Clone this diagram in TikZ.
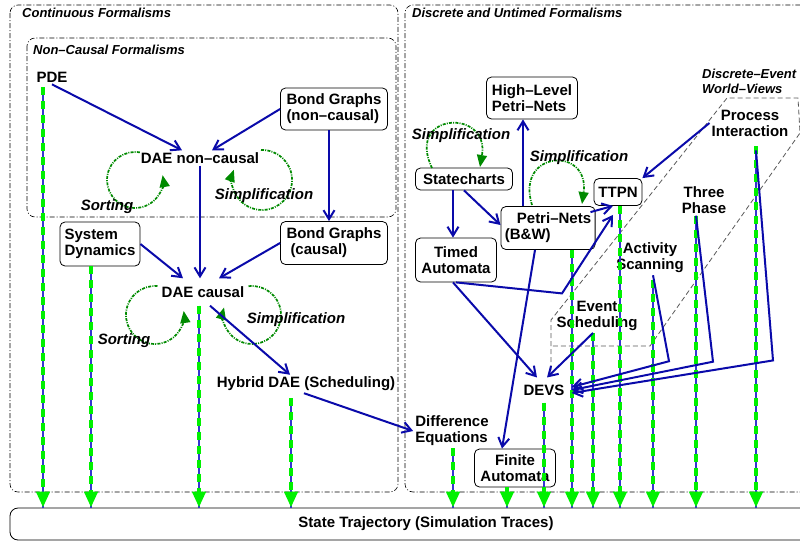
\documentclass[tikz,border=0pt]{standalone}
\usepackage{fontspec}
\setmainfont{Liberation Sans}
\usetikzlibrary{arrows.meta, calc}
\definecolor{fblue}{HTML}{0A0AAA}
\definecolor{tblue}{HTML}{3535D0}
\definecolor{fgreen}{HTML}{00F000}
\definecolor{lgreen}{HTML}{008A00}
\tikzset{
  fbox/.style={draw=black, fill=white, rounded corners=5pt, line width=0.8pt,
               font=\fontsize{15}{16}\selectfont\bfseries, inner sep=4pt, align=center},
  ftext/.style={font=\fontsize{15}{16}\selectfont\bfseries, inner sep=2pt, align=center},
  glabel/.style={font=\fontsize{13}{15}\selectfont\bfseries\itshape, anchor=west,
                 inner sep=0pt, align=left},
  llabel/.style={font=\fontsize{15}{16}\selectfont\bfseries\itshape, inner sep=0pt},
  group/.style={draw=black, line width=0.6pt, rounded corners=8pt,
                dash pattern=on 5pt off 2pt on 1pt off 2pt},
  wview/.style={draw=black!65, line width=0.8pt, dash pattern=on 5pt off 3pt},
  arr/.style={-{Straight Barb[length=9pt,width=11pt]}, line width=2pt, fblue},
  selfloop/.style={-{Triangle[length=12pt,width=10pt]}, line width=1.7pt, lgreen,
                   dash pattern=on 3pt off 1.2pt on 1pt off 1.2pt},
  trace/.style={-{Triangle[length=16pt,width=13pt]}, line width=4.5pt, fgreen,
                dash pattern=on 8pt off 6pt,
                preaction={draw=tblue, line width=1.2pt, solid, -}},
}

\begin{document}
\begin{tikzpicture}[x=1pt, y=-1pt]
  \useasboundingbox (0,0) rectangle (800,541);

  %% Group frames
  \draw[group] (10,5) rectangle (398,492);
  \draw[group] (405,5) rectangle (830,492);
  \draw[group] (27,38) rectangle (396,217);
  \draw[wview] (551,370) -- (551,320) -- (727,98) -- (798,98) -- (800,133) -- (650,346) -- (551,346);

  \node[glabel] (lcont) at (22,13) {Continuous Formalisms};
  \node[glabel] (lnoncausal) at (33,50) {Non--Causal Formalisms};
  \node[glabel] (ldisc) at (412,13) {Discrete and Untimed Formalisms};
  \node[glabel] (lworld) at (702,81) {Discrete--Event\\World--Views};

  %% Continuous formalisms
  \node[ftext] (pde) at (52,77) {PDE};
  \node[fbox, minimum width=107pt, minimum height=42pt, align=left] (bgnc) at (334,109) {Bond Graphs\\(non--causal)};
  \node[ftext] (daenc) at (200,158) {DAE non--causal};
  \node[fbox, minimum width=80pt, minimum height=44pt, align=left] (sysdyn) at (100,244) {System\\Dynamics};
  \node[fbox, minimum width=107pt, minimum height=43pt, align=left] (bgc) at (334,243) {Bond Graphs\\\hspace{4pt}(causal)};
  \node[ftext, inner ysep=8pt] (daec) at (203,292) {DAE causal};
  \node[ftext] (hybrid) at (306,384) {Hybrid DAE (Scheduling)};
  \node[ftext, align=left] (diff) at (452,431) {Difference\\Equations};

  %% Discrete formalisms
  \node[fbox, minimum width=91pt, minimum height=42pt, align=left] (hlpn) at (532,98) {High--Level\\Petri--Nets};
  \node[fbox, minimum width=97pt, minimum height=22pt, inner ysep=2pt] (stch) at (464,179) {Statecharts};
  \node[fbox, minimum width=91pt, minimum height=43pt, align=left] (petri) at (548,228) {\hspace{12pt}Petri--Nets\\(B\&W)};
  \node[fbox, minimum width=48pt, minimum height=27pt] (ttpn) at (618,192) {TTPN};
  \node[fbox, minimum width=81pt, minimum height=44pt] (timed) at (456,260) {Timed\\Automata};
  \node[fbox, minimum width=81pt, minimum height=38pt] (finite) at (515,468) {Finite\\Automata};
  \node[ftext, inner sep=7pt] (devs) at (544,390) {DEVS};
  \node[ftext] (evsched) at (597,316) {Event\\Scheduling};
  \node[ftext] (actscan) at (650,258) {Activity\\Scanning};
  \node[ftext] (three) at (704,200) {Three\\Phase};
  \node[ftext] (process) at (750,123) {Process\\Interaction};

  \node[draw, rounded corners=8pt, line width=0.8pt, minimum width=832pt, minimum height=32pt,
        font=\fontsize{15}{16}\selectfont\bfseries, inner sep=0pt] (traj) at (426,524) {State Trajectory (Simulation Traces)};

  %% Self loops
  \draw[selfloop] (139.9,152.4) arc[start angle=-80, end angle=-370, radius=28];
  \draw[selfloop] (261,150) arc[start angle=-92, end angle=200, radius=30];
  \draw[selfloop] (157.5,286.1) arc[start angle=-85, end angle=-368, radius=29];
  \draw[selfloop] (248.5,286.2) arc[start angle=-97, end angle=195, radius=29];
  \draw[selfloop] (432,168) .. controls (405,112) and (490,108) .. (480,167);
  \draw[selfloop] (532,205) .. controls (515,150) and (590,146) .. (582,204);

  \node[llabel] (sortnc) at (107,207) {Sorting};
  \node[llabel] (simpnc) at (264,196) {Simplification};
  \node[llabel] (sortc) at (124,341) {Sorting};
  \node[llabel] (simpc) at (296,320) {Simplification};
  \node[llabel] (simpst) at (461,136) {Simplification};
  \node[llabel] (simppn) at (579,158) {Simplification};

  %% Traces down to the state trajectory
  \draw[trace] ([xshift=-9pt,yshift=-3pt]pde.south) -- ([xshift=-9pt]pde.south |- traj.north);
  \draw[trace] ([xshift=-9pt]sysdyn.south) -- ([xshift=-9pt]sysdyn.south |- traj.north);
  \draw[trace] ([xshift=-4pt]daec.south) -- ([xshift=-4pt]daec.south |- traj.north);
  \draw[trace] ([xshift=-15pt,yshift=-5pt]hybrid.south) -- ([xshift=-15pt]hybrid.south |- traj.north);
  \draw[trace] ([xshift=1pt]diff.south) -- ([xshift=1pt]diff.south |- traj.north);
  \draw[trace] ([xshift=-8pt]finite.south) -- ([xshift=-8pt]finite.south |- traj.north);
  \draw[trace] (devs.south) -- (devs.south |- traj.north);
  \draw[trace] ([xshift=24pt]petri.south) -- ([xshift=24pt]petri.south |- traj.north);
  \draw[trace] ([xshift=-4pt]evsched.south) -- ([xshift=-4pt]evsched.south |- traj.north);
  \draw[trace] ([xshift=2pt]ttpn.south) -- ([xshift=2pt]ttpn.south |- traj.north);
  \draw[trace] ([xshift=3pt,yshift=-5pt]actscan.south) -- ([xshift=3pt]actscan.south |- traj.north);
  \draw[trace] ([xshift=-8pt]three.south) -- ([xshift=-8pt]three.south |- traj.north);
  \draw[trace] ([xshift=6pt,yshift=-8pt]process.south) -- ([xshift=6pt]process.south |- traj.north);

  %% Transformations
  \draw[arr] (pde.south) -- ([xshift=-18pt]daenc.north);
  \draw[arr] (bgnc.west) -- ([xshift=12pt]daenc.north);
  \draw[arr] ([xshift=-5pt]bgnc.south) -- ([xshift=-5pt]bgc.north);
  \draw[arr] (daenc.south) -- (daenc.south |- daec.north);
  \draw[arr] (sysdyn.east) -- ([xshift=-20pt]daec.north);
  \draw[arr] (bgc.west) -- ([xshift=16pt]daec.north);
  \draw[arr] ([xshift=7pt]daec.south) -- ([xshift=-16pt]hybrid.north);
  \draw[arr] ([xshift=-2pt]hybrid.south) -- (diff.west);

  \draw[arr] ([xshift=-11pt]stch.south) -- ([xshift=-11pt]stch.south |- timed.north);
  \draw[arr] (stch.south) -- ([yshift=3pt]petri.west);
  \draw[arr] ([xshift=-25pt]petri.north) -- ([xshift=-25pt]petri.north |- hlpn.south);
  \draw[arr] ([xshift=-5pt,yshift=-6pt]petri.north east) -- ([xshift=-5pt]ttpn.south);
  \draw[arr] (timed.south) -- ++(106,11) -- ([xshift=-5pt,yshift=-9pt]ttpn.south);
  \draw[arr] ([xshift=-3pt]timed.south) -- ([xshift=-7pt]devs.north);
  \draw[arr] ([xshift=-13pt]petri.south) -- ([xshift=-13pt]finite.north);
  \draw[arr] (process.west) -- (ttpn.north east);
  \draw[arr] ([xshift=-4pt]evsched.south) -- ([xshift=3pt]devs.north);
  \draw[arr] ([xshift=3pt]actscan.south) -- ++(16,86) -- ([yshift=3pt]devs.east);
  \draw[arr] ([xshift=-8pt]three.south) -- ++(17,146) -- (devs.east);
  \draw[arr] ([xshift=6pt,yshift=-12pt]process.south) -- ++(17,210) -- ([yshift=-3pt]devs.east);

\end{tikzpicture}
\end{document}
